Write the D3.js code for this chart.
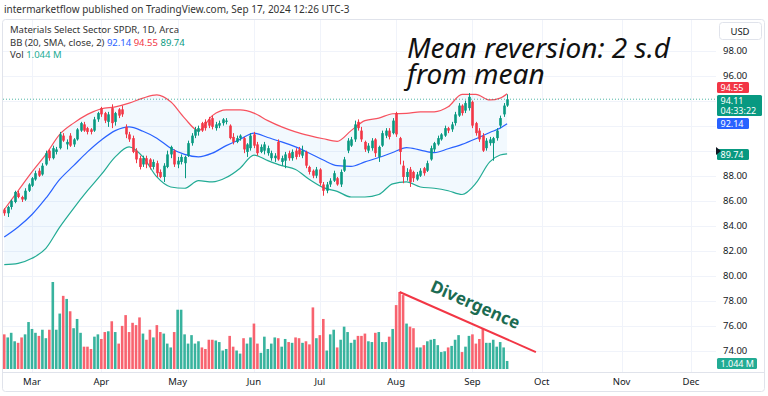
<!DOCTYPE html>
<html>

<head>
  <meta charset="utf-8">
  <title>XLB Bollinger Bands</title>
  <script type="text/javascript" src="https://cdn.jsdelivr.net/npm/d3@7"></script>
  <style type="text/css">
    body { margin: 0; background: #fff; }
    text { font-family: "Noto Sans", sans-serif; }
  </style>
</head>

<body>
  <script type="text/javascript">

    // Daily bars, Feb 20 2024 .. Sep 17 2024 (index = trading day)
    const open = [85.3,85.0,85.5,85.9,86.6,86.3,86.1,86.8,87.2,87.7, 88.4,88.1,88.9,90.0,89.4,89.9,90.2,91.2,90.5,91.2,
      90.5,90.9,91.6,92.1,91.8,91.7,91.6,92.5,93.4,93.0, 92.3,93.4,92.3,93.3,93.3,91.9,91.3,91.0,90.0,89.4,
      88.9,89.4,89.3,88.7,89.0,88.3,87.9,88.7,89.7,90.0, 88.9,89.1,89.0,89.6,90.6,91.2,91.5,92.2,92.3,92.5,
      92.6,91.8,92.0,92.2,92.3,92.0,91.1,90.7,91.0,91.0, 89.9,90.2,91.3,90.5,89.9,90.0,89.8,89.4,89.4,90.7,
      89.1,89.2,89.8,89.4,90.0,90.1,89.6,89.9,88.7,88.4, 88.0,88.5,87.3,86.8,87.3,87.6,87.8,87.3,88.4,90.0,
      90.4,90.9,92.3,91.6,90.7,90.0,90.2,90.9,89.5,90.4, 91.2,91.6,91.4,93.0,91.0,88.8,87.9,88.5,88.3,87.7,
      88.0,88.6,88.4,89.3,90.1,90.5,90.9,91.2,91.8,91.7, 92.2,92.8,93.6,93.2,93.4,93.9,92.2,91.6,91.2,90.2,
      90.6,90.6,91.0,92.0,92.9,93.6];
    const high = [85.4,85.6,86.1,86.8,86.8,86.4,87.0,87.4,87.9,88.4, 88.6,89.0,90.0,90.1,90.4,90.3,91.5,91.4,90.9,91.4,
      91.0,91.8,92.3,92.3,91.9,91.8,92.7,93.1,93.5,93.1, 93.1,93.7,93.1,93.4,93.6,92.1,91.5,91.2,90.2,89.6,
      89.6,89.6,89.4,89.3,89.2,88.5,89.0,90.0,90.4,90.1, 89.5,89.7,89.6,90.8,91.4,91.9,92.0,92.3,92.5,92.7,
      92.8,92.3,92.4,92.6,92.6,92.1,91.4,91.2,91.3,91.1, 90.6,91.4,91.5,90.7,90.5,90.7,90.4,90.0,89.8,90.9,
      89.6,89.9,90.0,90.1,90.2,90.3,90.4,90.0,88.8,88.5, 88.7,88.6,87.5,87.5,87.8,88.4,87.9,88.5,89.5,91.0,
      91.1,92.4,92.5,91.9,90.8,90.6,91.0,91.0,90.4,91.6, 91.8,91.8,92.6,93.1,91.1,89.2,88.6,88.7,88.4,88.3,
      88.6,88.7,89.2,90.4,90.7,91.2,91.4,92.0,91.9,92.3, 93.1,93.8,93.7,94.0,94.6,94.0,92.3,91.8,91.4,91.0,
      91.1,91.1,91.8,92.8,93.8,94.5];
    const low = [84.8,84.7,85.3,85.8,86.2,85.9,86.0,86.7,87.1,87.6, 87.9,88.0,88.8,89.2,89.3,89.7,90.1,90.7,90.1,90.3,
      90.3,90.8,91.5,91.5,91.3,91.3,91.5,92.3,92.7,92.2, 91.9,91.8,92.0,92.6,92.7,91.0,90.7,89.8,89.0,88.5,
      88.7,88.6,88.5,88.5,87.9,87.8,87.5,88.6,89.4,88.7, 88.6,88.9,87.8,89.5,90.4,91.0,91.2,91.5,91.6,91.8,
      91.7,91.6,91.8,92.0,92.1,90.9,90.5,90.6,90.8,89.8, 89.5,90.0,90.2,89.6,89.8,89.7,89.6,89.2,89.1,89.2,
      88.8,88.6,89.2,89.2,89.3,89.5,89.4,88.6,88.1,87.8, 87.8,87.2,86.4,86.6,87.1,87.5,87.2,87.1,88.3,89.8,
      90.3,90.7,91.6,90.7,89.9,89.8,90.0,89.5,89.1,90.3, 91.0,90.9,91.3,91.1,88.9,87.4,87.6,87.1,87.5,87.6,
      87.9,88.0,88.3,89.2,89.9,90.4,90.8,91.1,91.4,91.5, 92.0,92.7,92.8,93.0,93.2,91.8,91.2,90.7,89.9,90.0,
      90.4,89.2,90.8,91.8,92.7,93.5];
    const close = [85.0,85.5,86.0,86.7,86.3,86.1,86.8,87.3,87.8,88.2, 88.0,88.8,89.8,89.4,90.2,90.1,91.3,90.8,90.7,90.4,
      90.9,91.7,92.2,91.6,91.5,91.5,92.5,93.0,92.9,92.4, 92.9,92.2,93.0,92.8,92.9,91.3,90.9,89.9,89.3,88.7,
      89.4,88.9,88.7,89.1,88.2,87.9,88.8,89.7,90.3,88.9, 89.2,89.5,89.5,90.6,91.2,91.7,91.8,91.6,91.8,92.0,
      91.9,92.1,92.2,92.5,92.4,91.0,90.7,91.0,91.2,90.1, 90.5,91.2,90.4,89.8,90.3,90.5,90.2,89.8,89.6,89.3,
      89.4,89.7,89.4,89.9,89.5,89.7,90.0,88.8,88.3,88.0, 88.5,87.4,86.8,87.3,87.6,88.2,87.3,88.3,89.3,90.8,
      90.9,92.1,91.8,90.9,90.1,90.4,90.8,89.8,90.3,91.4, 91.6,91.1,92.4,91.3,89.9,87.9,88.3,87.5,87.8,88.1,
      88.4,88.2,89.0,90.2,90.6,91.0,91.3,91.8,91.6,92.1, 92.9,93.6,93.0,93.8,94.3,92.0,91.4,90.9,90.0,90.8,
      90.9,91.0,91.6,92.6,93.6,94.11];
    // volume, millions of shares
    const volume = [4.5,4.1,4.7,3.6,3.4,4.1,4.5,6.1,5.2,4.7, 4.3,5.1,4.0,5.1,11.3,5.1,7.2,9.5,9.1,7.5,
      5.3,6.5,4.7,2.9,2.9,2.6,4.2,4.5,3.9,4.8, 4.9,6.2,4.8,3.3,5.6,7.0,4.8,6.0,5.7,6.7,
      4.6,3.8,5.1,4.1,5.7,4.8,4.6,3.3,2.8,4.8, 7.7,7.7,4.5,3.3,4.4,3.3,3.6,2.8,2.6,3.8,
      3.8,3.7,3.5,2.4,2.6,4.3,2.9,2.4,2.0,4.0, 3.3,4.1,5.9,3.3,2.1,4.2,2.6,3.3,4.1,4.0,
      2.9,3.9,3.5,3.4,4.1,4.0,3.4,3.6,3.2,8.0, 4.0,4.4,6.5,2.4,4.5,5.1,2.8,3.8,5.5,4.8,
      3.4,3.8,4.3,4.3,4.6,3.6,3.5,4.7,4.8,3.5, 3.5,4.2,5.2,8.3,10.0,9.6,5.9,5.5,5.3,2.8,
      2.8,3.1,3.6,3.8,3.9,3.1,2.2,2.3,2.8,3.0, 3.8,4.4,2.2,2.9,4.3,4.5,3.3,3.9,5.3,3.4,
      3.4,3.8,2.9,3.5,2.8,1.044];

    // Bollinger Bands (20, SMA, close, 2) read at these bar indexes
    const bbIndex = [0,4,8,12,16,20,24,28,32,36,40,44,48,52,56,60,64,68,72,76,80,84,88,92,96,100,
      104,108,112,116,120,124,128,132,136,140,143,145];
    const bbUpper = [85.3,86.8,88.3,89.7,91.3,92.2,92.9,93.35,93.5,93.8,94.2,94.45,93.9,92.6,91.6,92.8,
      93.25,93.25,93.0,92.4,91.9,91.5,91.2,90.95,90.75,91.6,92.4,92.6,92.95,92.98,93.1,93.1,93.5,94.5,
      94.5,94.05,94.2,94.55];
    const bbBasis = [83.1,83.9,84.9,86.2,87.7,88.8,89.9,90.85,91.6,91.9,91.55,91.0,90.2,89.7,89.5,89.8,
      90.4,90.9,91.4,91.05,90.7,90.3,89.8,89.25,88.8,88.75,89.1,89.45,89.85,90.25,90.05,89.85,90.15,
      90.5,90.95,91.45,91.8,92.14];
    const bbLower = [80.9,81.0,81.4,82.2,83.9,85.4,86.8,88.1,89.5,90.3,89.5,87.9,87.1,87.0,87.6,87.5,
      87.85,88.6,89.65,89.2,88.8,88.5,87.7,87.05,86.75,86.3,86.3,86.5,87.35,87.5,87.1,87.0,86.8,86.5,
      87.4,89.1,89.65,89.74];

    const monthLabels = ["Mar", "Apr", "May", "Jun", "Jul", "Aug", "Sep", "Oct", "Nov", "Dec"];
    const monthIndex = [8, 28, 50, 72, 91, 113, 135, 155, 178, 198];
    const priceTicks = [98, 96, 88, 86, 84, 82, 80, 78, 76, 74];
    const gridTicks = [98, 96, 94, 92, 90, 88, 86, 84, 82, 80, 78, 76, 74];

    const upColor = "#089981";
    const downColor = "#f23645";
    const w = 768;
    const h = 396;
    const plotRight = 716;

    const x = d3.scaleLinear().domain([0, 198]).range([4.25, 4.25 + 198 * 3.468]);
    const y = d3.scaleLinear().domain([74, 98]).range([351, 50.5]);
    const yVol = d3.scaleLinear().domain([0, 11.3]).range([369, 282]);

    const svg = d3.select("body")
      .append("svg")
      .attr("width", w)
      .attr("height", h);

    // outer frame
    svg.append("rect")
      .attr("x", 2.5).attr("y", 19.5)
      .attr("width", 762).attr("height", 372)
      .attr("rx", 3)
      .attr("fill", "none")
      .attr("stroke", "#e0e3eb");

    // grid
    svg.selectAll(".hgrid")
      .data(gridTicks)
      .enter()
      .append("line")
      .attr("x1", 3).attr("x2", plotRight)
      .attr("y1", d => Math.round(y(d)) + 0.5)
      .attr("y2", d => Math.round(y(d)) + 0.5)
      .attr("stroke", "#f0f3fa");
    svg.selectAll(".vgrid")
      .data(monthIndex)
      .enter()
      .append("line")
      .attr("x1", d => Math.round(x(d)) + 0.5)
      .attr("x2", d => Math.round(x(d)) + 0.5)
      .attr("y1", 20).attr("y2", 372)
      .attr("stroke", "#f0f3fa");

    // time axis separator
    svg.append("line")
      .attr("x1", 3).attr("x2", 765)
      .attr("y1", 372.5).attr("y2", 372.5)
      .attr("stroke", "#e0e3eb");

    // Bollinger fill and lines
    const bb = bbIndex.map((d, i) => ({ i: d, u: bbUpper[i], m: bbBasis[i], l: bbLower[i] }));
    svg.append("path")
      .datum(bb)
      .attr("d", d3.area().x(d => x(d.i)).y0(d => y(d.l)).y1(d => y(d.u)).curve(d3.curveMonotoneX))
      .attr("fill", "rgba(33,150,243,0.06)");
    [["u", "#f7525f"], ["m", "#2962ff"], ["l", "#22ab94"]].forEach(function (s) {
      svg.append("path")
        .datum(bb)
        .attr("d", d3.line().x(d => x(d.i)).y(d => y(d[s[0]])).curve(d3.curveMonotoneX))
        .attr("fill", "none")
        .attr("stroke", s[1])
        .attr("stroke-width", 1.2);
    });

    // volume
    svg.selectAll(".vol")
      .data(volume)
      .enter()
      .append("rect")
      .attr("x", (d, i) => x(i) - 1.3)
      .attr("width", 2.6)
      .attr("y", d => yVol(d))
      .attr("height", d => yVol(0) - yVol(d))
      .attr("fill", (d, i) => close[i] >= open[i] ? "#22ab94" : "#f7525f")
      .attr("opacity", 0.9);

    // candles
    const candles = svg.selectAll(".candle")
      .data(close)
      .enter()
      .append("g");
    candles.append("line")
      .attr("x1", (d, i) => Math.round(x(i)) + 0.5)
      .attr("x2", (d, i) => Math.round(x(i)) + 0.5)
      .attr("y1", (d, i) => y(high[i]))
      .attr("y2", (d, i) => y(low[i]))
      .attr("stroke", (d, i) => d >= open[i] ? upColor : downColor);
    candles.append("rect")
      .attr("x", (d, i) => Math.round(x(i)) + 0.5 - 1.3)
      .attr("width", 2.6)
      .attr("y", (d, i) => y(Math.max(d, open[i])))
      .attr("height", (d, i) => Math.max(1, Math.abs(y(d) - y(open[i]))))
      .attr("fill", (d, i) => d >= open[i] ? upColor : downColor);

    // last price dotted line
    const last = close[close.length - 1];
    svg.append("line")
      .attr("x1", 3).attr("x2", plotRight)
      .attr("y1", y(last)).attr("y2", y(last))
      .attr("stroke", upColor)
      .attr("stroke-dasharray", "1,2")
      .attr("opacity", 0.7);

    // divergence annotation
    const divFrom = { i: 114, v: 10.0 };
    const divTo = { i: 153.3, v: 2.2 };
    svg.append("line")
      .attr("x1", x(divFrom.i)).attr("y1", yVol(divFrom.v))
      .attr("x2", x(divTo.i)).attr("y2", yVol(divTo.v))
      .attr("stroke", "#f23645")
      .attr("stroke-width", 2);
    const ang = Math.atan2(yVol(divTo.v) - yVol(divFrom.v), x(divTo.i) - x(divFrom.i)) * 180 / Math.PI;
    svg.append("text")
      .attr("transform", "translate(473,310) rotate(" + ang + ")")
      .attr("text-anchor", "middle")
      .attr("font-size", 17)
      .attr("font-weight", "bold")
      .attr("fill", "#1b6b52")
      .text("Divergence");

    // big note, one text with two lines
    const note = svg.append("text")
      .attr("font-size", 28)
      .attr("font-style", "italic")
      .attr("fill", "#111");
    note.append("tspan").attr("x", 407).attr("y", 58).text("Mean reversion: 2 s.d");
    note.append("tspan").attr("x", 407).attr("y", 84).text("from mean");

    // price scale
    svg.selectAll(".ptick")
      .data(priceTicks)
      .enter()
      .append("text")
      .attr("x", 723)
      .attr("y", d => y(d) + 3)
      .attr("font-size", 9.5)
      .attr("fill", "#131722")
      .text(d => d.toFixed(2));

    // time scale
    svg.selectAll(".mtick")
      .data(monthIndex)
      .enter()
      .append("text")
      .attr("x", d => x(d))
      .attr("y", 385)
      .attr("text-anchor", "middle")
      .attr("font-size", 9.5)
      .attr("fill", "#131722")
      .text((d, i) => monthLabels[i]);

    // USD box
    svg.append("rect")
      .attr("x", 719.5).attr("y", 22.5).attr("width", 42).attr("height", 17).attr("rx", 3)
      .attr("fill", "#fff").attr("stroke", "#e0e3eb");
    svg.append("text")
      .attr("x", 740).attr("y", 34.5).attr("text-anchor", "middle")
      .attr("font-size", 9.5).attr("fill", "#131722").text("USD");

    // price labels on the scale
    function tag(color, label, yy, wd, ht) {
      svg.append("rect")
        .attr("x", 717).attr("y", yy).attr("width", wd).attr("height", ht).attr("rx", 1.5)
        .attr("fill", color);
      const t = svg.append("text")
        .attr("font-size", 9).attr("fill", "#fff");
      label.forEach(function (s, k) {
        t.append("tspan").attr("x", 720.5).attr("y", yy + 8.5 + k * 10).text(s);
      });
    }
    const upperLast = bbUpper[bbUpper.length - 1];
    const basisLast = bbBasis[bbBasis.length - 1];
    const lowerLast = bbLower[bbLower.length - 1];
    const volLast = volume[volume.length - 1];
    tag("#f23645", [upperLast.toFixed(2)], 82, 32, 11);
    tag(upColor, [last.toFixed(2), "04:33:22"], 95, 45, 21);
    tag("#2962ff", [basisLast.toFixed(2)], 118, 32, 11);
    tag(upColor, [lowerLast.toFixed(2)], 149, 32, 11);
    tag("#22ab94", [volLast.toFixed(3) + " M"], 358, 40, 11);
    svg.append("path")
      .attr("d", "M716,147 L721,151 L716,155 Z")
      .attr("fill", "#131722");

    // legend
    svg.append("text")
      .attr("x", 4).attr("y", 13)
      .attr("font-size", 10).attr("fill", "#333")
      .text("intermarketflow published on TradingView.com, Sep 17, 2024 12:26 UTC-3");
    svg.append("text")
      .attr("x", 10).attr("y", 33)
      .attr("font-size", 9.5).attr("fill", "#333")
      .text("Materials Select Sector SPDR, 1D, Arca");
    const bbLeg = svg.append("text")
      .attr("x", 10).attr("y", 46)
      .attr("font-size", 9.5).attr("fill", "#333");
    bbLeg.append("tspan").text("BB (20, SMA, close, 2) ");
    bbLeg.append("tspan").attr("fill", "#2962ff").text(basisLast.toFixed(2) + " ");
    bbLeg.append("tspan").attr("fill", "#f23645").text(upperLast.toFixed(2) + " ");
    bbLeg.append("tspan").attr("fill", upColor).text(lowerLast.toFixed(2));
    const volLeg = svg.append("text")
      .attr("x", 10).attr("y", 58)
      .attr("font-size", 9.5).attr("fill", "#333");
    volLeg.append("tspan").text("Vol ");
    volLeg.append("tspan").attr("fill", "#22ab94").text(volLast.toFixed(3) + " M");

  </script>
</body>

</html>
